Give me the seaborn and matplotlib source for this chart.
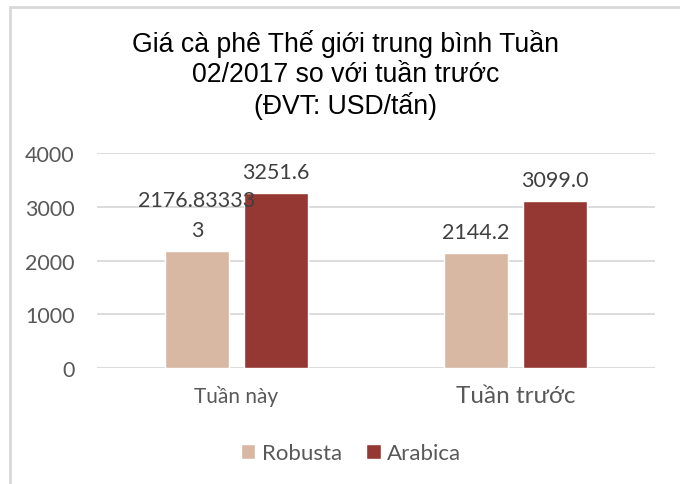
import numpy as np
import pandas as pd
import matplotlib.pyplot as plt
import seaborn as sns
from matplotlib.lines import Line2D

# data
weeks = ["Tuần này", "Tuần trước"]
series = ["Robusta", "Arabica"]
robusta = [2176.833333, 2144.2]
arabica = [3251.6, 3099.0]
robusta_labels = ["2176.83333\n3", "2144.2"]
arabica_labels = ["3251.6", "3099.0"]
title = "Giá cà phê Thế giới trung bình Tuần\n02/2017 so với tuần trước\n(ĐVT: USD/tấn)"

df = pd.DataFrame({
    "week": weeks * 2,
    "type": [series[0]] * 2 + [series[1]] * 2,
    "price": robusta + arabica,
})

sns.set_theme(style="white")
plt.rcParams["font.family"] = ["Lato", "Noto Sans", "DejaVu Sans"]
gray = "#595959"

fig = plt.figure(figsize=(6.8, 4.85), dpi=100)
ax = fig.add_axes([97 / 680, 1 - 369 / 485, 558 / 680, 215 / 485])

sns.barplot(data=df, x="week", y="price", hue="type", hue_order=series,
            palette=["#d8b7a3", "#953833"], width=0.566, gap=0.2,
            saturation=1, ax=ax, legend=True)

ax.set_ylim(0, 4000)
ax.set_yticks([0, 1000, 2000, 3000, 4000])
ax.set_xlim(-0.5, 1.5)
ax.grid(axis="y", color="#d9d9d9", linewidth=1.3)
ax.set_axisbelow(True)
sns.despine(ax=ax, left=True, bottom=True)
ax.set_xlabel("")
ax.set_ylabel("")
ax.tick_params(axis="y", labelsize=15.5, colors=gray, length=0, pad=16)
ax.tick_params(axis="x", colors=gray, length=0, pad=12)
xt = ax.get_xticklabels()
xt[0].set_fontsize(15)
xt[1].set_fontsize(17.5)

for cont, labs in zip(ax.containers, [robusta_labels, arabica_labels]):
    ax.bar_label(cont, labels=labs, padding=8, fontsize=15.5, color="#404040",
                 linespacing=1.6)

ax.legend(loc="center", bbox_to_anchor=(351 / 680, 1 - 454 / 485),
          bbox_transform=fig.transFigure, ncol=2, frameon=False,
          fontsize=16, labelcolor=gray, handlelength=0.65, handleheight=0.65,
          handletextpad=0.3, columnspacing=1.1, borderpad=0)

fig.text(346 / 680, 1 - 75 / 485, title, ha="center", va="center",
         fontsize=19.2, family=["Liberation Sans", "DejaVu Sans"],
         color="black", linespacing=1.19)

# light frame of the chart area (left and top edges)
fig.add_artist(Line2D([9.5 / 680, 9.5 / 680], [0, 1 - 7.5 / 485],
                      transform=fig.transFigure, color="#d9d9d9", lw=2))
fig.add_artist(Line2D([9.5 / 680, 1], [1 - 7.5 / 485, 1 - 7.5 / 485],
                      transform=fig.transFigure, color="#d9d9d9", lw=2))

fig.savefig("out.png", dpi=100, facecolor="white")
